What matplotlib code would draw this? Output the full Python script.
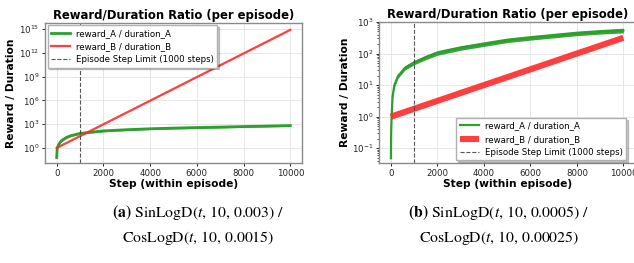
import numpy as np
import matplotlib
matplotlib.use("Agg")
import matplotlib.pyplot as plt
from matplotlib.ticker import NullLocator, LogLocator

# ---------------- data ----------------
steps_a = [0, 20, 50, 100, 200, 400, 600, 1000, 1500, 2000, 3000, 4000,
           5000, 6000, 7000, 8000, 9000, 10000]
ratio_a_green = [0.063, 0.63, 1.6, 3.2, 7.9, 20, 35, 68, 100, 141, 200, 263,
                 316, 372, 427, 501, 575, 661]
ratio_a_green_low = [0.05, 0.5, 1.2, 2.5, 6.0, 15, 27, 52, 78, 108, 155, 205,
                     245, 290, 330, 390, 445, 515]
ratio_a_green_high = [0.08, 0.8, 2.0, 4.0, 10, 25, 44, 86, 128, 180, 255, 335,
                      405, 475, 545, 640, 735, 845]
steps_red = [0, 2000, 4000, 6000, 8000, 10000]
ratio_a_red = [1.0, 955, 9.1e5, 8.7e8, 8.3e11, 7.9e14]

steps_b = [0, 10, 30, 70, 150, 300, 600, 1000, 1500, 2000, 3000, 4000,
           5000, 6000, 7000, 8000, 9000, 10000]
ratio_b_green = [0.048, 0.32, 1.0, 4.4, 10, 19, 35, 52, 76, 105, 151, 200,
                 263, 316, 372, 437, 490, 537]
ratio_b_green_low = [0.046, 0.29, 0.88, 3.8, 8.6, 16.3, 30, 44, 64, 88, 127, 168,
                     222, 266, 313, 368, 413, 452]
ratio_b_green_high = [0.05, 0.36, 1.14, 5.1, 11.7, 22.2, 41, 61, 89, 124, 178, 236,
                      310, 372, 438, 515, 578, 635]
ratio_b_red = [1.0, 3.16, 10.0, 31.6, 100, 316]

step_limit = 1000
titles = ["Reward/Duration Ratio (per episode)", "Reward/Duration Ratio (per episode)"]
label_green = "reward_A / duration_A"
label_red = "reward_B / duration_B"
label_limit = "Episode Step Limit (1000 steps)"
xticks = [0, 2000, 4000, 6000, 8000, 10000]
yticks_a = [1e0, 1e3, 1e6, 1e9, 1e12, 1e15]
yticks_b = [1e-1, 1e0, 1e1, 1e2, 1e3]
caption_a = [r"$\mathbf{(a)}$ SinLogD$(t$, 10, 0.003$)$ /", r"CosLogD$(t$, 10, 0.0015$)$"]
caption_b = [r"$\mathbf{(b)}$ SinLogD$(t$, 10, 0.0005$)$ /", r"CosLogD$(t$, 10, 0.00025$)$"]

# ---------------- figure ----------------
W, H = 634, 263
fig = plt.figure(figsize=(W / 100, H / 100), dpi=100)
plt.rcParams['mathtext.fontset'] = 'stix'

GREEN = '#2ca02c'
RED = '#ff2a2a'
SPINE = '#8a8a8a'


def px_axes(l, r, t, b):
    return fig.add_axes([l / W, 1 - b / H, (r - l) / W, (b - t) / H])


def style(ax):
    for s in ax.spines.values():
        s.set_color(SPINE)
        s.set_linewidth(1.0)
    ax.grid(True, color='#e6e6e6', linewidth=0.7)
    ax.set_axisbelow(True)
    ax.tick_params(axis='both', labelsize=6.2, colors='#222222', length=2.5, width=0.7,
                   pad=1.5)
    ax.tick_params(axis='both', which='minor', length=1.2, width=0.5)
    ax.set_xlabel("Step (within episode)", fontsize=7.7, fontweight='bold', labelpad=1)
    ax.set_ylabel("Reward / Duration", fontsize=7.7, fontweight='bold', labelpad=2)


SHADOW = {'color': 'black', 'alpha': 0.2, 'ox': 1.2, 'oy': -1.2}
LEG = dict(fontsize=6.2, frameon=True, shadow=SHADOW, framealpha=1,
           edgecolor='#b0b0b0', fancybox=False, borderpad=0.4, handlelength=2.2,
           handletextpad=0.7, borderaxespad=0.3, labelspacing=0.5)

# panel (a)
axa = px_axes(45, 302, 22.7, 163)
axa.set_yscale('log')
axa.fill_between(steps_a, ratio_a_green_low, ratio_a_green_high, color=GREEN, alpha=0.9, lw=0)
axa.plot(steps_a, ratio_a_green, color=GREEN, lw=2.0, label=label_green)
axa.plot(steps_red, ratio_a_red, color=RED, lw=1.6, alpha=0.9, label=label_red)
axa.axvline(step_limit, color='#444444', ls='--', lw=0.8, alpha=0.9, label=label_limit)
axa.set_xlim(-500, 10500)
axa.set_ylim(10 ** -1.9, 10 ** 15.8)
axa.set_xticks(xticks)
axa.set_yticks(yticks_a)
axa.yaxis.set_minor_locator(NullLocator())
axa.set_title(titles[0], fontsize=8.4, fontweight='bold', pad=3)
style(axa)
axa.legend(loc='upper left', **LEG)

# panel (b)
axb = px_axes(379.3, 635, 22.0, 163)
axb.set_yscale('log')
axb.fill_between(steps_b, ratio_b_green_low, ratio_b_green_high, color=GREEN, alpha=0.95, lw=0)
axb.plot(steps_b, ratio_b_green, color=GREEN, lw=1.6, label=label_green)
axb.plot(steps_red, ratio_b_red, color=RED, lw=4.4, alpha=0.9, label=label_red,
         solid_capstyle='butt')
axb.axvline(step_limit, color='#444444', ls='--', lw=0.8, alpha=0.9, label=label_limit)
axb.set_xlim(-500, 10500)
axb.set_ylim(10 ** -1.47, 10 ** 3)
axb.set_xticks(xticks)
axb.set_yticks(yticks_b)
axb.yaxis.set_minor_locator(LogLocator(base=10, subs=np.arange(2, 10)))
axb.yaxis.set_minor_formatter(plt.NullFormatter())
axb.set_title(titles[1], fontsize=8.4, fontweight='bold', pad=3)
style(axb)
axb.legend(loc='lower right', bbox_to_anchor=(0.975, 0.0), **LEG)

# captions
for cx, lines in ((198, caption_a), (499, caption_b)):
    for cy, txt in zip((212, 238), lines):
        fig.text(cx / W, 1 - cy / H, txt, ha='center', va='center', fontsize=11.3,
                 family='STIXGeneral')

fig.savefig("out.png", dpi=100)
